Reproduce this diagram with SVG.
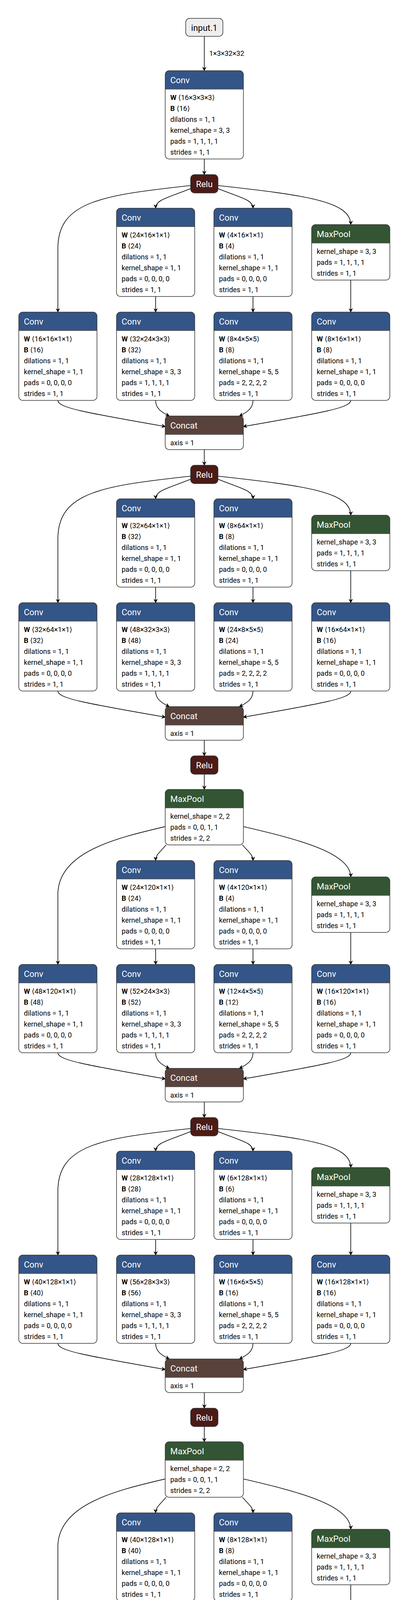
<svg xmlns="http://www.w3.org/2000/svg" width="1046" height="5114" viewBox="0 0 1046 5114">
<style>
text{font-family:Roboto,"Noto Sans","Liberation Sans","DejaVu Sans",sans-serif}
.t{font-size:22px;fill:#fff}
.tc{font-size:22px;fill:#fff;text-anchor:middle}
.io-t{font-size:22px;fill:#000;text-anchor:middle}
.a{font-size:18px;fill:#000}
.b{font-weight:bold}
.bg{fill:#fff}
.bd{fill:none;stroke:#333;stroke-width:1.5}
.sep{fill:none;stroke:#555;stroke-width:2}
.conv{fill:#335588}
.pool{fill:#335533}
.relu{fill:#4b1b16;stroke:#333;stroke-width:1.5}
.gap{fill:#335533;stroke:#333;stroke-width:1.5}
.flat{fill:#6c4f47;stroke:#333;stroke-width:1.5}
.cat{fill:#59423b}
.io{fill:#eee;stroke:#333;stroke-width:1.5}
.e{fill:none;stroke:#000;stroke-width:1.6;marker-end:url(#arr)}
.lbl{font-size:18px;fill:#000}
</style>
<defs>
<marker id="arr" viewBox="0 0 10 10" refX="9" refY="5" markerWidth="11" markerHeight="11" markerUnits="userSpaceOnUse" orient="auto"><path d="M0,0 L10,5 L0,10 L3,5 Z" fill="#000"/></marker>
<g id="f226"><rect class="bg" width="200" height="226" rx="10"/><path d="M0,47V10A10,10 0 0 1 10,0H190A10,10 0 0 1 200,10V47Z"/><path class="sep" d="M0,47H200"/><rect class="bd" width="200" height="226" rx="10"/></g>
<g id="f142"><rect class="bg" width="200" height="142" rx="10"/><path d="M0,47V10A10,10 0 0 1 10,0H190A10,10 0 0 1 200,10V47Z"/><path class="sep" d="M0,47H200"/><rect class="bd" width="200" height="142" rx="10"/></g>
<g id="f86"><rect class="bg" width="200" height="86" rx="10"/><path d="M0,47V10A10,10 0 0 1 10,0H190A10,10 0 0 1 200,10V47Z"/><path class="sep" d="M0,47H200"/><rect class="bd" width="200" height="86" rx="10"/></g>
</defs>
<rect width="1046" height="5114" fill="#fff"/>

<g id="connectors">
<path class="e" d="M522.5,93V181"/>
<text class="lbl" x="535" y="143">1×3×32×32</text>
<path class="e" d="M522.5,407V447"/>
<!-- stage 1 -->
<path class="e" d="M487,475C260,500 148,516 148,636L148,799"/>
<path class="e" d="M487,483C430,506 398,511 398,533"/>
<path class="e" d="M558,483C615,506 647,511 647,533"/>
<path class="e" d="M558,475C785,500 897,516 897,575"/>
<path class="e" d="M398,759V799"/>
<path class="e" d="M647,759V799"/>
<path class="e" d="M897,717V799"/>
<path class="e" d="M148,1025C148,1043 210,1055 423,1092"/>
<path class="e" d="M398,1025C398,1045 412,1055 433,1065"/>
<path class="e" d="M647,1025C647,1045 633,1055 612,1065"/>
<path class="e" d="M897,1025C897,1043 835,1055 622,1092"/>
<path class="e" d="M522.5,1151V1191"/>
<!-- stage 2 -->
<path class="e" d="M487,1219C260,1244 148,1260 148,1380L148,1543"/>
<path class="e" d="M487,1227C430,1250 398,1255 398,1277"/>
<path class="e" d="M558,1227C615,1250 647,1255 647,1277"/>
<path class="e" d="M558,1219C785,1244 897,1260 897,1319"/>
<path class="e" d="M398,1503V1543"/>
<path class="e" d="M647,1503V1543"/>
<path class="e" d="M897,1461V1543"/>
<path class="e" d="M148,1769C148,1787 210,1799 423,1836"/>
<path class="e" d="M398,1769C398,1789 412,1799 433,1809"/>
<path class="e" d="M647,1769C647,1789 633,1799 612,1809"/>
<path class="e" d="M897,1769C897,1787 835,1799 622,1836"/>
<path class="e" d="M522.5,1895V1935"/>
<path class="e" d="M522.5,1982V2021"/>
<!-- stage 3 -->
<path class="e" d="M423,2116C300,2145 148,2180 148,2290L148,2469"/>
<path class="e" d="M425,2163C405,2185 398,2190 398,2203"/>
<path class="e" d="M620,2163C640,2185 647,2190 647,2203"/>
<path class="e" d="M622,2116C745,2145 897,2180 897,2245"/>
<path class="e" d="M398,2429V2469"/>
<path class="e" d="M647,2429V2469"/>
<path class="e" d="M897,2387V2469"/>
<path class="e" d="M148,2695C148,2713 210,2725 423,2762"/>
<path class="e" d="M398,2695C398,2715 412,2725 433,2735"/>
<path class="e" d="M647,2695C647,2715 633,2725 612,2735"/>
<path class="e" d="M897,2695C897,2713 835,2725 622,2762"/>
<path class="e" d="M522.5,2821V2861"/>
<!-- stage 4 -->
<path class="e" d="M487,2889C260,2914 148,2930 148,3050L148,3213"/>
<path class="e" d="M487,2897C430,2920 398,2925 398,2947"/>
<path class="e" d="M558,2897C615,2920 647,2925 647,2947"/>
<path class="e" d="M558,2889C785,2914 897,2930 897,2989"/>
<path class="e" d="M398,3173V3213"/>
<path class="e" d="M647,3173V3213"/>
<path class="e" d="M897,3131V3213"/>
<path class="e" d="M148,3439C148,3457 210,3469 423,3506"/>
<path class="e" d="M398,3439C398,3459 412,3469 433,3479"/>
<path class="e" d="M647,3439C647,3459 633,3469 612,3479"/>
<path class="e" d="M897,3439C897,3457 835,3469 622,3506"/>
<path class="e" d="M522.5,3565V3605"/>
<path class="e" d="M522.5,3652V3691"/>
<!-- stage 5 -->
<path class="e" d="M423,3786C300,3815 148,3850 148,3960L148,4139"/>
<path class="e" d="M425,3833C405,3855 398,3860 398,3873"/>
<path class="e" d="M620,3833C640,3855 647,3860 647,3873"/>
<path class="e" d="M622,3786C745,3815 897,3850 897,3915"/>
<path class="e" d="M398,4099V4139"/>
<path class="e" d="M647,4099V4139"/>
<path class="e" d="M897,4057V4139"/>
<path class="e" d="M148,4365C148,4383 210,4395 423,4432"/>
<path class="e" d="M398,4365C398,4385 412,4395 433,4405"/>
<path class="e" d="M647,4365C647,4385 633,4395 612,4405"/>
<path class="e" d="M897,4365C897,4383 835,4395 622,4432"/>
<path class="e" d="M522.5,4491V4531"/>
<path class="e" d="M522.5,4578V4617"/>
<path class="e" d="M522.5,4664V4703"/>
<path class="e" d="M522.5,4750V4789"/>
<path class="e" d="M522.5,4931V5019"/>
<text class="lbl" x="536" y="4982">1×10</text>
</g>

<g id="input_1" transform="translate(475,47)"><rect class="io" width="95" height="46" rx="10"/><text class="io-t" x="47.5" y="32">input.1</text></g>

<g id="conv_0" transform="translate(422.5,181)"><use href="#f226" class="conv"/><text class="t" x="13" y="32">Conv</text>
<text class="a" x="13" y="75"><tspan class="b">W</tspan> ⟨16×3×3×3⟩</text><text class="a" x="13" y="103"><tspan class="b">B</tspan> ⟨16⟩</text><text class="a" x="13" y="131">dilations = 1, 1</text><text class="a" x="13" y="159">kernel_shape = 3, 3</text><text class="a" x="13" y="187">pads = 1, 1, 1, 1</text><text class="a" x="13" y="215">strides = 1, 1</text></g>

<g id="relu_1" transform="translate(487.5,447)"><rect class="relu" width="70" height="47" rx="10"/><text class="tc" x="35" y="32">Relu</text></g>

<!-- stage 1 -->
<g id="s1_conv_b2a" transform="translate(298,533)"><use href="#f226" class="conv"/><text class="t" x="13" y="32">Conv</text>
<text class="a" x="13" y="75"><tspan class="b">W</tspan> ⟨24×16×1×1⟩</text><text class="a" x="13" y="103"><tspan class="b">B</tspan> ⟨24⟩</text><text class="a" x="13" y="131">dilations = 1, 1</text><text class="a" x="13" y="159">kernel_shape = 1, 1</text><text class="a" x="13" y="187">pads = 0, 0, 0, 0</text><text class="a" x="13" y="215">strides = 1, 1</text></g>
<g id="s1_conv_b3a" transform="translate(547,533)"><use href="#f226" class="conv"/><text class="t" x="13" y="32">Conv</text>
<text class="a" x="13" y="75"><tspan class="b">W</tspan> ⟨4×16×1×1⟩</text><text class="a" x="13" y="103"><tspan class="b">B</tspan> ⟨4⟩</text><text class="a" x="13" y="131">dilations = 1, 1</text><text class="a" x="13" y="159">kernel_shape = 1, 1</text><text class="a" x="13" y="187">pads = 0, 0, 0, 0</text><text class="a" x="13" y="215">strides = 1, 1</text></g>
<g id="s1_maxpool" transform="translate(797,575)"><use href="#f142" class="pool"/><text class="t" x="13" y="32">MaxPool</text>
<text class="a" x="13" y="75">kernel_shape = 3, 3</text><text class="a" x="13" y="103">pads = 1, 1, 1, 1</text><text class="a" x="13" y="131">strides = 1, 1</text></g>
<g id="s1_conv_b1" transform="translate(48,799)"><use href="#f226" class="conv"/><text class="t" x="13" y="32">Conv</text>
<text class="a" x="13" y="75"><tspan class="b">W</tspan> ⟨16×16×1×1⟩</text><text class="a" x="13" y="103"><tspan class="b">B</tspan> ⟨16⟩</text><text class="a" x="13" y="131">dilations = 1, 1</text><text class="a" x="13" y="159">kernel_shape = 1, 1</text><text class="a" x="13" y="187">pads = 0, 0, 0, 0</text><text class="a" x="13" y="215">strides = 1, 1</text></g>
<g id="s1_conv_b2b" transform="translate(298,799)"><use href="#f226" class="conv"/><text class="t" x="13" y="32">Conv</text>
<text class="a" x="13" y="75"><tspan class="b">W</tspan> ⟨32×24×3×3⟩</text><text class="a" x="13" y="103"><tspan class="b">B</tspan> ⟨32⟩</text><text class="a" x="13" y="131">dilations = 1, 1</text><text class="a" x="13" y="159">kernel_shape = 3, 3</text><text class="a" x="13" y="187">pads = 1, 1, 1, 1</text><text class="a" x="13" y="215">strides = 1, 1</text></g>
<g id="s1_conv_b3b" transform="translate(547,799)"><use href="#f226" class="conv"/><text class="t" x="13" y="32">Conv</text>
<text class="a" x="13" y="75"><tspan class="b">W</tspan> ⟨8×4×5×5⟩</text><text class="a" x="13" y="103"><tspan class="b">B</tspan> ⟨8⟩</text><text class="a" x="13" y="131">dilations = 1, 1</text><text class="a" x="13" y="159">kernel_shape = 5, 5</text><text class="a" x="13" y="187">pads = 2, 2, 2, 2</text><text class="a" x="13" y="215">strides = 1, 1</text></g>
<g id="s1_conv_b4" transform="translate(797,799)"><use href="#f226" class="conv"/><text class="t" x="13" y="32">Conv</text>
<text class="a" x="13" y="75"><tspan class="b">W</tspan> ⟨8×16×1×1⟩</text><text class="a" x="13" y="103"><tspan class="b">B</tspan> ⟨8⟩</text><text class="a" x="13" y="131">dilations = 1, 1</text><text class="a" x="13" y="159">kernel_shape = 1, 1</text><text class="a" x="13" y="187">pads = 0, 0, 0, 0</text><text class="a" x="13" y="215">strides = 1, 1</text></g>
<g id="s1_concat" transform="translate(422.5,1065)"><use href="#f86" class="cat"/><text class="t" x="13" y="32">Concat</text><text class="a" x="13" y="75">axis = 1</text></g>
<g id="relu_2" transform="translate(487.5,1191)"><rect class="relu" width="70" height="47" rx="10"/><text class="tc" x="35" y="32">Relu</text></g>

<!-- stage 2 -->
<g id="s2_conv_b2a" transform="translate(298,1277)"><use href="#f226" class="conv"/><text class="t" x="13" y="32">Conv</text>
<text class="a" x="13" y="75"><tspan class="b">W</tspan> ⟨32×64×1×1⟩</text><text class="a" x="13" y="103"><tspan class="b">B</tspan> ⟨32⟩</text><text class="a" x="13" y="131">dilations = 1, 1</text><text class="a" x="13" y="159">kernel_shape = 1, 1</text><text class="a" x="13" y="187">pads = 0, 0, 0, 0</text><text class="a" x="13" y="215">strides = 1, 1</text></g>
<g id="s2_conv_b3a" transform="translate(547,1277)"><use href="#f226" class="conv"/><text class="t" x="13" y="32">Conv</text>
<text class="a" x="13" y="75"><tspan class="b">W</tspan> ⟨8×64×1×1⟩</text><text class="a" x="13" y="103"><tspan class="b">B</tspan> ⟨8⟩</text><text class="a" x="13" y="131">dilations = 1, 1</text><text class="a" x="13" y="159">kernel_shape = 1, 1</text><text class="a" x="13" y="187">pads = 0, 0, 0, 0</text><text class="a" x="13" y="215">strides = 1, 1</text></g>
<g id="s2_maxpool" transform="translate(797,1319)"><use href="#f142" class="pool"/><text class="t" x="13" y="32">MaxPool</text>
<text class="a" x="13" y="75">kernel_shape = 3, 3</text><text class="a" x="13" y="103">pads = 1, 1, 1, 1</text><text class="a" x="13" y="131">strides = 1, 1</text></g>
<g id="s2_conv_b1" transform="translate(48,1543)"><use href="#f226" class="conv"/><text class="t" x="13" y="32">Conv</text>
<text class="a" x="13" y="75"><tspan class="b">W</tspan> ⟨32×64×1×1⟩</text><text class="a" x="13" y="103"><tspan class="b">B</tspan> ⟨32⟩</text><text class="a" x="13" y="131">dilations = 1, 1</text><text class="a" x="13" y="159">kernel_shape = 1, 1</text><text class="a" x="13" y="187">pads = 0, 0, 0, 0</text><text class="a" x="13" y="215">strides = 1, 1</text></g>
<g id="s2_conv_b2b" transform="translate(298,1543)"><use href="#f226" class="conv"/><text class="t" x="13" y="32">Conv</text>
<text class="a" x="13" y="75"><tspan class="b">W</tspan> ⟨48×32×3×3⟩</text><text class="a" x="13" y="103"><tspan class="b">B</tspan> ⟨48⟩</text><text class="a" x="13" y="131">dilations = 1, 1</text><text class="a" x="13" y="159">kernel_shape = 3, 3</text><text class="a" x="13" y="187">pads = 1, 1, 1, 1</text><text class="a" x="13" y="215">strides = 1, 1</text></g>
<g id="s2_conv_b3b" transform="translate(547,1543)"><use href="#f226" class="conv"/><text class="t" x="13" y="32">Conv</text>
<text class="a" x="13" y="75"><tspan class="b">W</tspan> ⟨24×8×5×5⟩</text><text class="a" x="13" y="103"><tspan class="b">B</tspan> ⟨24⟩</text><text class="a" x="13" y="131">dilations = 1, 1</text><text class="a" x="13" y="159">kernel_shape = 5, 5</text><text class="a" x="13" y="187">pads = 2, 2, 2, 2</text><text class="a" x="13" y="215">strides = 1, 1</text></g>
<g id="s2_conv_b4" transform="translate(797,1543)"><use href="#f226" class="conv"/><text class="t" x="13" y="32">Conv</text>
<text class="a" x="13" y="75"><tspan class="b">W</tspan> ⟨16×64×1×1⟩</text><text class="a" x="13" y="103"><tspan class="b">B</tspan> ⟨16⟩</text><text class="a" x="13" y="131">dilations = 1, 1</text><text class="a" x="13" y="159">kernel_shape = 1, 1</text><text class="a" x="13" y="187">pads = 0, 0, 0, 0</text><text class="a" x="13" y="215">strides = 1, 1</text></g>
<g id="s2_concat" transform="translate(422.5,1809)"><use href="#f86" class="cat"/><text class="t" x="13" y="32">Concat</text><text class="a" x="13" y="75">axis = 1</text></g>
<g id="relu_3" transform="translate(487.5,1935)"><rect class="relu" width="70" height="47" rx="10"/><text class="tc" x="35" y="32">Relu</text></g>
<g id="maxpool_1" transform="translate(422.5,2021)"><use href="#f142" class="pool"/><text class="t" x="13" y="32">MaxPool</text>
<text class="a" x="13" y="75">kernel_shape = 2, 2</text><text class="a" x="13" y="103">pads = 0, 0, 1, 1</text><text class="a" x="13" y="131">strides = 2, 2</text></g>

<!-- stage 3 -->
<g id="s3_conv_b2a" transform="translate(298,2203)"><use href="#f226" class="conv"/><text class="t" x="13" y="32">Conv</text>
<text class="a" x="13" y="75"><tspan class="b">W</tspan> ⟨24×120×1×1⟩</text><text class="a" x="13" y="103"><tspan class="b">B</tspan> ⟨24⟩</text><text class="a" x="13" y="131">dilations = 1, 1</text><text class="a" x="13" y="159">kernel_shape = 1, 1</text><text class="a" x="13" y="187">pads = 0, 0, 0, 0</text><text class="a" x="13" y="215">strides = 1, 1</text></g>
<g id="s3_conv_b3a" transform="translate(547,2203)"><use href="#f226" class="conv"/><text class="t" x="13" y="32">Conv</text>
<text class="a" x="13" y="75"><tspan class="b">W</tspan> ⟨4×120×1×1⟩</text><text class="a" x="13" y="103"><tspan class="b">B</tspan> ⟨4⟩</text><text class="a" x="13" y="131">dilations = 1, 1</text><text class="a" x="13" y="159">kernel_shape = 1, 1</text><text class="a" x="13" y="187">pads = 0, 0, 0, 0</text><text class="a" x="13" y="215">strides = 1, 1</text></g>
<g id="s3_maxpool" transform="translate(797,2245)"><use href="#f142" class="pool"/><text class="t" x="13" y="32">MaxPool</text>
<text class="a" x="13" y="75">kernel_shape = 3, 3</text><text class="a" x="13" y="103">pads = 1, 1, 1, 1</text><text class="a" x="13" y="131">strides = 1, 1</text></g>
<g id="s3_conv_b1" transform="translate(48,2469)"><use href="#f226" class="conv"/><text class="t" x="13" y="32">Conv</text>
<text class="a" x="13" y="75"><tspan class="b">W</tspan> ⟨48×120×1×1⟩</text><text class="a" x="13" y="103"><tspan class="b">B</tspan> ⟨48⟩</text><text class="a" x="13" y="131">dilations = 1, 1</text><text class="a" x="13" y="159">kernel_shape = 1, 1</text><text class="a" x="13" y="187">pads = 0, 0, 0, 0</text><text class="a" x="13" y="215">strides = 1, 1</text></g>
<g id="s3_conv_b2b" transform="translate(298,2469)"><use href="#f226" class="conv"/><text class="t" x="13" y="32">Conv</text>
<text class="a" x="13" y="75"><tspan class="b">W</tspan> ⟨52×24×3×3⟩</text><text class="a" x="13" y="103"><tspan class="b">B</tspan> ⟨52⟩</text><text class="a" x="13" y="131">dilations = 1, 1</text><text class="a" x="13" y="159">kernel_shape = 3, 3</text><text class="a" x="13" y="187">pads = 1, 1, 1, 1</text><text class="a" x="13" y="215">strides = 1, 1</text></g>
<g id="s3_conv_b3b" transform="translate(547,2469)"><use href="#f226" class="conv"/><text class="t" x="13" y="32">Conv</text>
<text class="a" x="13" y="75"><tspan class="b">W</tspan> ⟨12×4×5×5⟩</text><text class="a" x="13" y="103"><tspan class="b">B</tspan> ⟨12⟩</text><text class="a" x="13" y="131">dilations = 1, 1</text><text class="a" x="13" y="159">kernel_shape = 5, 5</text><text class="a" x="13" y="187">pads = 2, 2, 2, 2</text><text class="a" x="13" y="215">strides = 1, 1</text></g>
<g id="s3_conv_b4" transform="translate(797,2469)"><use href="#f226" class="conv"/><text class="t" x="13" y="32">Conv</text>
<text class="a" x="13" y="75"><tspan class="b">W</tspan> ⟨16×120×1×1⟩</text><text class="a" x="13" y="103"><tspan class="b">B</tspan> ⟨16⟩</text><text class="a" x="13" y="131">dilations = 1, 1</text><text class="a" x="13" y="159">kernel_shape = 1, 1</text><text class="a" x="13" y="187">pads = 0, 0, 0, 0</text><text class="a" x="13" y="215">strides = 1, 1</text></g>
<g id="s3_concat" transform="translate(422.5,2735)"><use href="#f86" class="cat"/><text class="t" x="13" y="32">Concat</text><text class="a" x="13" y="75">axis = 1</text></g>
<g id="relu_4" transform="translate(487.5,2861)"><rect class="relu" width="70" height="47" rx="10"/><text class="tc" x="35" y="32">Relu</text></g>

<!-- stage 4 -->
<g id="s4_conv_b2a" transform="translate(298,2947)"><use href="#f226" class="conv"/><text class="t" x="13" y="32">Conv</text>
<text class="a" x="13" y="75"><tspan class="b">W</tspan> ⟨28×128×1×1⟩</text><text class="a" x="13" y="103"><tspan class="b">B</tspan> ⟨28⟩</text><text class="a" x="13" y="131">dilations = 1, 1</text><text class="a" x="13" y="159">kernel_shape = 1, 1</text><text class="a" x="13" y="187">pads = 0, 0, 0, 0</text><text class="a" x="13" y="215">strides = 1, 1</text></g>
<g id="s4_conv_b3a" transform="translate(547,2947)"><use href="#f226" class="conv"/><text class="t" x="13" y="32">Conv</text>
<text class="a" x="13" y="75"><tspan class="b">W</tspan> ⟨6×128×1×1⟩</text><text class="a" x="13" y="103"><tspan class="b">B</tspan> ⟨6⟩</text><text class="a" x="13" y="131">dilations = 1, 1</text><text class="a" x="13" y="159">kernel_shape = 1, 1</text><text class="a" x="13" y="187">pads = 0, 0, 0, 0</text><text class="a" x="13" y="215">strides = 1, 1</text></g>
<g id="s4_maxpool" transform="translate(797,2989)"><use href="#f142" class="pool"/><text class="t" x="13" y="32">MaxPool</text>
<text class="a" x="13" y="75">kernel_shape = 3, 3</text><text class="a" x="13" y="103">pads = 1, 1, 1, 1</text><text class="a" x="13" y="131">strides = 1, 1</text></g>
<g id="s4_conv_b1" transform="translate(48,3213)"><use href="#f226" class="conv"/><text class="t" x="13" y="32">Conv</text>
<text class="a" x="13" y="75"><tspan class="b">W</tspan> ⟨40×128×1×1⟩</text><text class="a" x="13" y="103"><tspan class="b">B</tspan> ⟨40⟩</text><text class="a" x="13" y="131">dilations = 1, 1</text><text class="a" x="13" y="159">kernel_shape = 1, 1</text><text class="a" x="13" y="187">pads = 0, 0, 0, 0</text><text class="a" x="13" y="215">strides = 1, 1</text></g>
<g id="s4_conv_b2b" transform="translate(298,3213)"><use href="#f226" class="conv"/><text class="t" x="13" y="32">Conv</text>
<text class="a" x="13" y="75"><tspan class="b">W</tspan> ⟨56×28×3×3⟩</text><text class="a" x="13" y="103"><tspan class="b">B</tspan> ⟨56⟩</text><text class="a" x="13" y="131">dilations = 1, 1</text><text class="a" x="13" y="159">kernel_shape = 3, 3</text><text class="a" x="13" y="187">pads = 1, 1, 1, 1</text><text class="a" x="13" y="215">strides = 1, 1</text></g>
<g id="s4_conv_b3b" transform="translate(547,3213)"><use href="#f226" class="conv"/><text class="t" x="13" y="32">Conv</text>
<text class="a" x="13" y="75"><tspan class="b">W</tspan> ⟨16×6×5×5⟩</text><text class="a" x="13" y="103"><tspan class="b">B</tspan> ⟨16⟩</text><text class="a" x="13" y="131">dilations = 1, 1</text><text class="a" x="13" y="159">kernel_shape = 5, 5</text><text class="a" x="13" y="187">pads = 2, 2, 2, 2</text><text class="a" x="13" y="215">strides = 1, 1</text></g>
<g id="s4_conv_b4" transform="translate(797,3213)"><use href="#f226" class="conv"/><text class="t" x="13" y="32">Conv</text>
<text class="a" x="13" y="75"><tspan class="b">W</tspan> ⟨16×128×1×1⟩</text><text class="a" x="13" y="103"><tspan class="b">B</tspan> ⟨16⟩</text><text class="a" x="13" y="131">dilations = 1, 1</text><text class="a" x="13" y="159">kernel_shape = 1, 1</text><text class="a" x="13" y="187">pads = 0, 0, 0, 0</text><text class="a" x="13" y="215">strides = 1, 1</text></g>
<g id="s4_concat" transform="translate(422.5,3479)"><use href="#f86" class="cat"/><text class="t" x="13" y="32">Concat</text><text class="a" x="13" y="75">axis = 1</text></g>
<g id="relu_5" transform="translate(487.5,3605)"><rect class="relu" width="70" height="47" rx="10"/><text class="tc" x="35" y="32">Relu</text></g>
<g id="maxpool_2" transform="translate(422.5,3691)"><use href="#f142" class="pool"/><text class="t" x="13" y="32">MaxPool</text>
<text class="a" x="13" y="75">kernel_shape = 2, 2</text><text class="a" x="13" y="103">pads = 0, 0, 1, 1</text><text class="a" x="13" y="131">strides = 2, 2</text></g>

<!-- stage 5 -->
<g id="s5_conv_b2a" transform="translate(298,3873)"><use href="#f226" class="conv"/><text class="t" x="13" y="32">Conv</text>
<text class="a" x="13" y="75"><tspan class="b">W</tspan> ⟨40×128×1×1⟩</text><text class="a" x="13" y="103"><tspan class="b">B</tspan> ⟨40⟩</text><text class="a" x="13" y="131">dilations = 1, 1</text><text class="a" x="13" y="159">kernel_shape = 1, 1</text><text class="a" x="13" y="187">pads = 0, 0, 0, 0</text><text class="a" x="13" y="215">strides = 1, 1</text></g>
<g id="s5_conv_b3a" transform="translate(547,3873)"><use href="#f226" class="conv"/><text class="t" x="13" y="32">Conv</text>
<text class="a" x="13" y="75"><tspan class="b">W</tspan> ⟨8×128×1×1⟩</text><text class="a" x="13" y="103"><tspan class="b">B</tspan> ⟨8⟩</text><text class="a" x="13" y="131">dilations = 1, 1</text><text class="a" x="13" y="159">kernel_shape = 1, 1</text><text class="a" x="13" y="187">pads = 0, 0, 0, 0</text><text class="a" x="13" y="215">strides = 1, 1</text></g>
<g id="s5_maxpool" transform="translate(797,3915)"><use href="#f142" class="pool"/><text class="t" x="13" y="32">MaxPool</text>
<text class="a" x="13" y="75">kernel_shape = 3, 3</text><text class="a" x="13" y="103">pads = 1, 1, 1, 1</text><text class="a" x="13" y="131">strides = 1, 1</text></g>
<g id="s5_conv_b1" transform="translate(48,4139)"><use href="#f226" class="conv"/><text class="t" x="13" y="32">Conv</text>
<text class="a" x="13" y="75"><tspan class="b">W</tspan> ⟨64×128×1×1⟩</text><text class="a" x="13" y="103"><tspan class="b">B</tspan> ⟨64⟩</text><text class="a" x="13" y="131">dilations = 1, 1</text><text class="a" x="13" y="159">kernel_shape = 1, 1</text><text class="a" x="13" y="187">pads = 0, 0, 0, 0</text><text class="a" x="13" y="215">strides = 1, 1</text></g>
<g id="s5_conv_b2b" transform="translate(298,4139)"><use href="#f226" class="conv"/><text class="t" x="13" y="32">Conv</text>
<text class="a" x="13" y="75"><tspan class="b">W</tspan> ⟨80×40×3×3⟩</text><text class="a" x="13" y="103"><tspan class="b">B</tspan> ⟨80⟩</text><text class="a" x="13" y="131">dilations = 1, 1</text><text class="a" x="13" y="159">kernel_shape = 3, 3</text><text class="a" x="13" y="187">pads = 1, 1, 1, 1</text><text class="a" x="13" y="215">strides = 1, 1</text></g>
<g id="s5_conv_b3b" transform="translate(547,4139)"><use href="#f226" class="conv"/><text class="t" x="13" y="32">Conv</text>
<text class="a" x="13" y="75"><tspan class="b">W</tspan> ⟨32×8×5×5⟩</text><text class="a" x="13" y="103"><tspan class="b">B</tspan> ⟨32⟩</text><text class="a" x="13" y="131">dilations = 1, 1</text><text class="a" x="13" y="159">kernel_shape = 5, 5</text><text class="a" x="13" y="187">pads = 2, 2, 2, 2</text><text class="a" x="13" y="215">strides = 1, 1</text></g>
<g id="s5_conv_b4" transform="translate(797,4139)"><use href="#f226" class="conv"/><text class="t" x="13" y="32">Conv</text>
<text class="a" x="13" y="75"><tspan class="b">W</tspan> ⟨32×128×1×1⟩</text><text class="a" x="13" y="103"><tspan class="b">B</tspan> ⟨32⟩</text><text class="a" x="13" y="131">dilations = 1, 1</text><text class="a" x="13" y="159">kernel_shape = 1, 1</text><text class="a" x="13" y="187">pads = 0, 0, 0, 0</text><text class="a" x="13" y="215">strides = 1, 1</text></g>
<g id="s5_concat" transform="translate(422.5,4405)"><use href="#f86" class="cat"/><text class="t" x="13" y="32">Concat</text><text class="a" x="13" y="75">axis = 1</text></g>
<g id="relu_6" transform="translate(487.5,4531)"><rect class="relu" width="70" height="47" rx="10"/><text class="tc" x="35" y="32">Relu</text></g>

<g id="global_average_pool" transform="translate(416.5,4617)"><rect class="gap" width="212" height="47" rx="10"/><text class="tc" x="106" y="32" textLength="186" lengthAdjust="spacingAndGlyphs">GlobalAveragePool</text></g>
<g id="flatten" transform="translate(475.5,4703)"><rect class="flat" width="94" height="47" rx="10"/><text class="tc" x="47" y="32">Flatten</text></g>
<g id="gemm" transform="translate(422.5,4789)"><use href="#f142" class="conv"/><text class="t" x="13" y="32">Gemm</text>
<text class="a" x="13" y="75"><tspan class="b">B</tspan> ⟨10×208⟩</text><text class="a" x="13" y="103"><tspan class="b">C</tspan> ⟨10⟩</text><text class="a" x="13" y="131">transB = 1</text></g>
<g id="output_242" transform="translate(490.5,5019)"><rect class="io" width="64" height="46" rx="10"/><text class="io-t" x="32" y="33">242</text></g>
</svg>
